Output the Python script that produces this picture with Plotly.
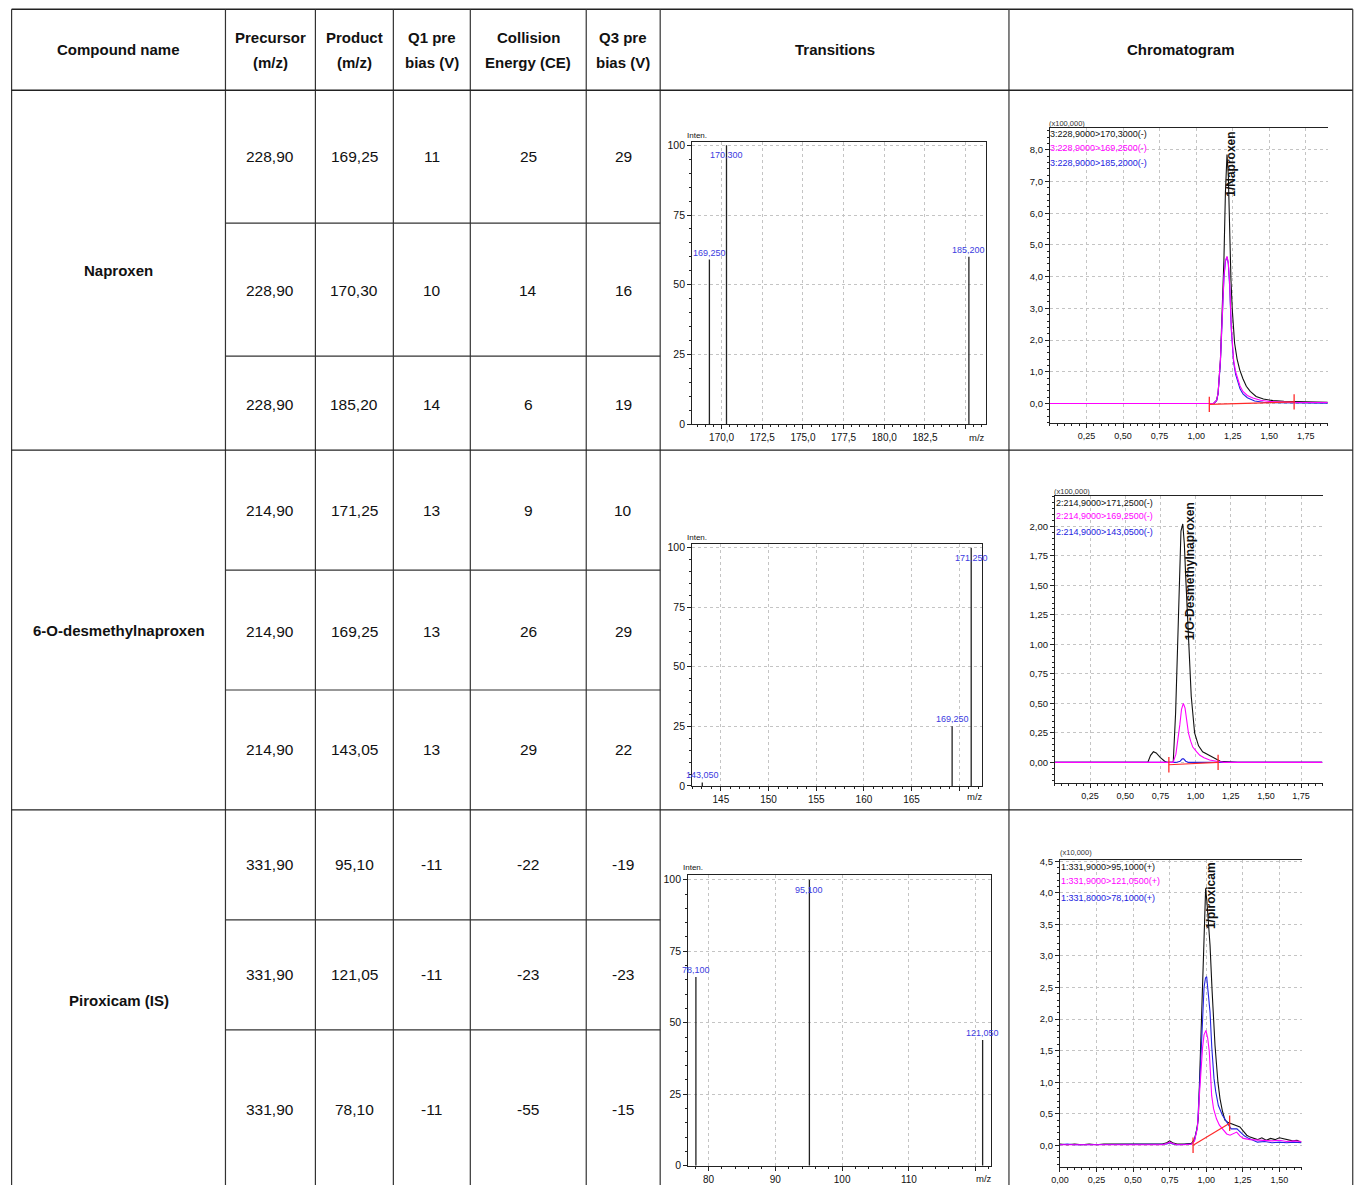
import plotly.graph_objects as go

# ---------------- table data ----------------
headers = ["Compound name", "Precursor<br>(m/z)", "Product<br>(m/z)", "Q1 pre<br>bias (V)",
           "Collision<br>Energy (CE)", "Q3 pre<br>bias (V)", "Transitions", "Chromatogram"]
compounds = ["Naproxen", "6-O-desmethylnaproxen", "Piroxicam (IS)"]
precursor_mz = [228.90, 228.90, 228.90, 214.90, 214.90, 214.90, 331.90, 331.90, 331.90]
product_mz = [169.25, 170.30, 185.20, 171.25, 169.25, 143.05, 95.10, 121.05, 78.10]
q1_bias = [11, 10, 14, 13, 13, 13, -11, -11, -11]
collision_energy = [25, 14, 6, 9, 26, 29, -22, -23, -55]
q3_bias = [29, 16, 19, 10, 29, 22, -19, -23, -15]

# ---------------- transition spectra (relative intensity) ----------------
spec1_mz = [169.25, 170.30, 185.20]
spec1_int = [59, 100, 60]
spec1_ticks = [170.0, 172.5, 175.0, 177.5, 180.0, 182.5, 185.0]
spec2_mz = [143.05, 169.25, 171.25]
spec2_int = [1.5, 25, 100]
spec2_ticks = [145.0, 150.0, 155.0, 160.0, 165.0, 170.0]
spec3_mz = [78.10, 95.10, 121.05]
spec3_int = [66, 100, 44]
spec3_ticks = [80, 90, 100, 110, 120]

# ---------------- chromatograms ----------------
# Naproxen (x100,000)
c1_black_t = [0.00, 0.50, 1.00, 1.12, 1.14, 1.15, 1.166, 1.18, 1.19, 1.20, 1.211, 1.22, 1.229, 1.238, 1.247,
              1.263, 1.28, 1.298, 1.32, 1.343, 1.37, 1.41, 1.46, 1.525, 1.60, 1.70, 1.80, 1.90]
c1_black_v = [0.00, 0.00, 0.00, 0.00, 0.10, 0.33, 1.38, 2.96, 4.54, 6.64, 7.85, 7.20, 5.06, 3.90, 2.96,
              1.90, 1.40, 1.06, 0.78, 0.54, 0.38, 0.22, 0.14, 0.09, 0.07, 0.06, 0.05, 0.04]
c1_blue_t = [0.00, 0.50, 1.00, 1.12, 1.14, 1.15, 1.166, 1.18, 1.19, 1.20, 1.211, 1.22, 1.229, 1.24, 1.256,
             1.27, 1.286, 1.30, 1.32, 1.35, 1.40, 1.46, 1.55, 1.65, 1.75, 1.90]
c1_blue_v = [0.00, 0.00, 0.00, 0.00, 0.09, 0.30, 1.30, 2.90, 3.95, 4.48, 4.62, 4.40, 3.70, 2.35, 1.30,
             0.92, 0.66, 0.46, 0.30, 0.18, 0.08, 0.04, 0.02, 0.02, 0.01, 0.01]
c1_mag_t = [0.00, 0.50, 1.00, 1.12, 1.14, 1.15, 1.166, 1.18, 1.19, 1.20, 1.211, 1.22, 1.229, 1.24, 1.256,
            1.27, 1.286, 1.30, 1.32, 1.35, 1.388, 1.44, 1.502, 1.60, 1.70, 1.80, 1.90]
c1_mag_v = [0.00, 0.00, 0.00, 0.00, 0.10, 0.33, 1.38, 2.96, 4.00, 4.50, 4.64, 4.45, 3.80, 2.45, 1.38,
            1.00, 0.75, 0.55, 0.38, 0.25, 0.17, 0.10, 0.06, 0.04, 0.03, 0.03, 0.03]
c1_red_t = [1.09, 1.67]
c1_red_v = [-0.03, 0.05]

# 6-O-desmethylnaproxen (x100,000)
c2_black_t = [0.00, 0.30, 0.60, 0.66, 0.68, 0.70, 0.72, 0.75, 0.78, 0.80, 0.841, 0.858, 0.872, 0.884, 0.896,
              0.909, 0.92, 0.931, 0.95, 0.969, 0.993, 1.021, 1.05, 1.08, 1.15, 1.175, 1.30, 1.50, 1.70, 1.90]
c2_black_v = [0.00, 0.00, 0.00, 0.00, 0.06, 0.09, 0.08, 0.04, 0.01, 0.00, 0.00, 0.42, 0.98, 1.54, 1.96,
              2.02, 1.85, 1.54, 0.98, 0.56, 0.25, 0.14, 0.09, 0.07, 0.03, 0.01, 0.00, 0.00, 0.00, 0.00]
c2_blue_t = [0.00, 0.86, 0.89, 0.905, 0.915, 0.93, 0.95, 1.20, 1.50, 1.90]
c2_blue_v = [0.00, 0.00, 0.01, 0.03, 0.03, 0.01, 0.00, 0.00, 0.00, 0.00]
c2_mag_t = [0.00, 0.60, 0.66, 0.80, 0.84, 0.86, 0.876, 0.888, 0.90, 0.913, 0.925, 0.937, 0.949, 0.965,
            0.98, 1.008, 1.03, 1.06, 1.10, 1.15, 1.20, 1.90]
c2_mag_v = [0.00, 0.00, 0.00, 0.00, 0.00, 0.07, 0.19, 0.32, 0.45, 0.50, 0.46, 0.35, 0.25, 0.18,
            0.13, 0.09, 0.06, 0.04, 0.02, 0.01, 0.00, 0.00]
c2_red_t = [0.81, 1.16]
c2_red_v = [-0.02, 0.00]

# Piroxicam (x10,000)
c3_black_t = [0.00, 0.05, 0.10, 0.15, 0.20, 0.25, 0.30, 0.35, 0.40, 0.45, 0.50, 0.55, 0.60, 0.65, 0.70,
              0.73, 0.75, 0.77, 0.80, 0.85, 0.90, 0.92, 0.935, 0.946, 0.962, 0.976, 0.987, 0.996,
              1.005, 1.015, 1.026, 1.04, 1.06, 1.08, 1.094, 1.11, 1.128, 1.15, 1.174, 1.20, 1.23, 1.255,
              1.277, 1.30, 1.32, 1.35, 1.38, 1.41, 1.44, 1.47, 1.50, 1.53, 1.56, 1.59, 1.62, 1.65]
c3_black_v = [0.02, 0.01, 0.02, 0.01, 0.02, 0.01, 0.02, 0.02, 0.01, 0.02, 0.01, 0.02, 0.01, 0.02, 0.02,
              0.04, 0.07, 0.04, 0.02, 0.02, 0.03, 0.10, 0.25, 0.42, 1.58, 2.64, 3.70, 4.07,
              3.85, 3.50, 3.17, 2.45, 1.58, 1.00, 0.74, 0.55, 0.40, 0.36, 0.34, 0.32, 0.29, 0.22,
              0.16, 0.13, 0.11, 0.09, 0.12, 0.08, 0.11, 0.09, 0.12, 0.10, 0.09, 0.07, 0.08, 0.05]
c3_blue_t = [0.00, 0.05, 0.10, 0.15, 0.20, 0.25, 0.30, 0.35, 0.40, 0.45, 0.50, 0.55, 0.60, 0.65, 0.70,
             0.73, 0.75, 0.77, 0.80, 0.85, 0.90, 0.92, 0.94, 0.955, 0.965, 0.975, 0.985, 0.995, 1.003,
             1.012, 1.026, 1.038, 1.053, 1.065, 1.083, 1.11, 1.14, 1.17, 1.21, 1.24, 1.26, 1.29, 1.35,
             1.40, 1.45, 1.50, 1.55, 1.60, 1.65]
c3_blue_v = [0.01, 0.02, 0.01, 0.01, 0.02, 0.01, 0.01, 0.02, 0.01, 0.01, 0.02, 0.01, 0.01, 0.02, 0.01,
             0.02, 0.04, 0.02, 0.01, 0.01, 0.02, 0.08, 0.30, 0.95, 1.55, 2.10, 2.50, 2.65, 2.67,
             2.45, 2.11, 1.55, 1.06, 0.85, 0.63, 0.48, 0.37, 0.26, 0.26, 0.20, 0.15, 0.11, 0.05,
             0.06, 0.04, 0.05, 0.04, 0.05, 0.04]
c3_mag_t = [0.00, 0.05, 0.10, 0.15, 0.20, 0.25, 0.30, 0.35, 0.40, 0.45, 0.50, 0.55, 0.60, 0.65, 0.70,
            0.73, 0.75, 0.77, 0.80, 0.85, 0.90, 0.92, 0.94, 0.955, 0.965, 0.975, 0.985, 0.998, 1.01,
            1.021, 1.03, 1.037, 1.05, 1.07, 1.09, 1.117, 1.14, 1.163, 1.185, 1.208, 1.23, 1.254, 1.30,
            1.37, 1.45, 1.50, 1.55, 1.60, 1.65]
c3_mag_v = [0.01, 0.01, 0.02, 0.01, 0.01, 0.02, 0.01, 0.01, 0.01, 0.02, 0.01, 0.01, 0.02, 0.01, 0.01,
            0.03, 0.05, 0.03, 0.01, 0.01, 0.02, 0.07, 0.28, 0.85, 1.25, 1.55, 1.75, 1.82, 1.70,
            1.48, 1.10, 0.79, 0.58, 0.42, 0.32, 0.24, 0.18, 0.16, 0.19, 0.21, 0.15, 0.11, 0.09,
            0.08, 0.07, 0.08, 0.06, 0.07, 0.06]
c3_red_t = [0.91, 1.16]
c3_red_v = [0.00, 0.35]

c1_names = ["3:228,9000>170,3000(-)", "3:228,9000>169,2500(-)", "3:228,9000>185,2000(-)"]
c2_names = ["2:214,9000>171,2500(-)", "2:214,9000>169,2500(-)", "2:214,9000>143,0500(-)"]
c3_names = ["1:331,9000>95,1000(+)", "1:331,9000>121,0500(+)", "1:331,8000>78,1000(+)"]
scale_labels = ["(x100,000)", "(x100,000)", "(x10,000)"]
peak_names = ["1/Naproxen", "1/O-Desmethylnaproxen", "1/piroxicam"]
peak_rt = [1.241, 0.960, 1.037]

# ---------------- geometry / style ----------------
W, H = 1356, 1185
# small correction for the page placement observed in the rendered screenshot
OX, SX, OY, SY = 8.4, 0.994, 3.7, 0.992
FONT = "Liberation Sans, Arial, sans-serif"
BLACK, MAGENTA, BLUE, RED = "#111111", "#ff00ff", "#2222e0", "#ff2a2a"
LABEL_BLUE = "#3b3be0"
TABLE_SIZE = 15


def px(x):
    return ((x - OX) / SX) / W


def py(y):
    return 1 - ((y - OY) / SY) / H


col_edges = [11, 225, 315, 393, 470, 586, 660, 1009, 1353]
row_edges = [9, 90, 223, 356, 450, 570, 690, 810, 920, 1030, 1200]
section_edges = [90, 450, 810, 1200]

fig = go.Figure()
shapes = []
anns = []

# table lines
shapes.append(dict(type="line", xref="paper", yref="paper", x0=px(col_edges[0]), x1=px(col_edges[-1]),
                   y0=py(row_edges[0]), y1=py(row_edges[0]), line=dict(color="#222", width=1.6)))
for xe in col_edges:
    shapes.append(dict(type="line", xref="paper", yref="paper", x0=px(xe), x1=px(xe),
                       y0=py(row_edges[0]), y1=py(row_edges[-1]), line=dict(color="#333", width=1.2)))
for ye in section_edges[:-1]:
    shapes.append(dict(type="line", xref="paper", yref="paper", x0=px(col_edges[0]), x1=px(col_edges[-1]),
                       y0=py(ye), y1=py(ye), line=dict(color="#222", width=1.3)))
for ye in row_edges[1:-1]:
    if ye in section_edges:
        continue
    shapes.append(dict(type="line", xref="paper", yref="paper", x0=px(col_edges[1]), x1=px(col_edges[6]),
                       y0=py(ye), y1=py(ye), line=dict(color="#333", width=1.2)))

# header text (each line placed separately for the wider line spacing)
hdr_mid = (row_edges[0] + row_edges[1]) / 2
for i, h in enumerate(headers):
    parts = h.split("<br>")
    for j, part in enumerate(parts):
        off = (j - (len(parts) - 1) / 2) * 25
        anns.append(dict(x=px((col_edges[i] + col_edges[i + 1]) / 2), y=py(hdr_mid + off),
                         xref="paper", yref="paper", text=f"<b>{part}</b>", showarrow=False,
                         font=dict(family=FONT, size=TABLE_SIZE, color="#111"), xanchor="center",
                         yanchor="middle"))
# compound names
comp_centers = [270, 630, 1001]
for k, c in enumerate(compounds):
    anns.append(dict(x=px((col_edges[0] + col_edges[1]) / 2), y=py(comp_centers[k]),
                     xref="paper", yref="paper", text=f"<b>{c}</b>", showarrow=False,
                     font=dict(family=FONT, size=TABLE_SIZE, color="#111"), xanchor="center", yanchor="middle"))


def fmt2(v):
    return f"{v:.2f}".replace(".", ",")


row_centers = [156, 290, 404, 510, 631, 750, 865, 975, 1110]
columns = [[fmt2(v) for v in precursor_mz], [fmt2(v) for v in product_mz],
           [str(v) for v in q1_bias], [str(v) for v in collision_energy], [str(v) for v in q3_bias]]
for ci, col in enumerate(columns):
    for ri, txt in enumerate(col):
        anns.append(dict(x=px((col_edges[ci + 1] + col_edges[ci + 2]) / 2), y=py(row_centers[ri]),
                         xref="paper", yref="paper", text=txt, showarrow=False,
                         font=dict(family=FONT, size=TABLE_SIZE + 0.5, color="#111"), xanchor="center",
                         yanchor="middle"))

layout_axes = {}
grid = dict(showgrid=True, gridcolor="#c4c4c4", griddash="3px,3px", gridwidth=1, zeroline=False)


def dom(x0, x1, y0, y1):
    return [px(x0), px(x1)], [py(y1), py(y0)]


# ---------- spectra ----------
spectra = [
    (spec1_mz, spec1_int, spec1_ticks, (692, 986, 142, 424), [168.19, 186.25], [0, 101.1], 0.5, (977, 437)),
    (spec2_mz, spec2_int, spec2_ticks, (692, 982, 544, 786), [141.99, 172.38], [0, 101.5], 1.0, (975, 797)),
    (spec3_mz, spec3_int, spec3_ticks, (688, 991, 875, 1166), [76.94, 122.3], [0, 101.7], 2.0, (984, 1179)),
]
for k, (mz, inten, ticks, box, xr, yr, xminor, mzpos) in enumerate(spectra):
    n = 2 * k + 1
    xs, ys = [], []
    for m, v in zip(mz, inten):
        xs += [m, m, None]
        ys += [0, v, None]
    xa = "x" if n == 1 else f"x{n}"
    ya = "y" if n == 1 else f"y{n}"
    fig.add_trace(go.Scatter(x=xs, y=ys, mode="lines", line=dict(color="#222", width=1.3),
                             xaxis=xa, yaxis=ya, showlegend=False, hoverinfo="skip"))
    xd, yd = dom(*box)
    if all(float(t).is_integer() for t in ticks):
        labels = [str(int(t)) for t in ticks[:-1]] + [""]
    else:
        labels = [f"{t:.1f}".replace(".", ",") for t in ticks[:-1]] + [""]
    layout_axes["xaxis" if n == 1 else f"xaxis{n}"] = dict(
        domain=xd, range=xr, anchor=ya, tickmode="array", tickvals=ticks, ticktext=labels,
        showline=True, linecolor="#222", linewidth=1, mirror=True, ticks="outside", ticklen=4,
        tickcolor="#222", tickfont=dict(family=FONT, size=10, color="#111"),
        minor=dict(tickmode="linear", tick0=ticks[0], dtick=xminor, ticks="outside", ticklen=2,
                   tickcolor="#222", showgrid=False), **grid)
    layout_axes["yaxis" if n == 1 else f"yaxis{n}"] = dict(
        domain=yd, range=yr, anchor=xa, tickmode="array", tickvals=[0, 25, 50, 75, 100],
        showline=True, linecolor="#222", linewidth=1, mirror=True, ticks="outside", ticklen=4,
        tickcolor="#222", tickfont=dict(family=FONT, size=10.5, color="#111"),
        minor=dict(tickmode="linear", tick0=0, dtick=5, ticks="outside", ticklen=2, tickcolor="#222",
                   showgrid=False), **grid)
    for m, v in zip(mz, inten):
        anns.append(dict(x=m, y=v, xref=xa, yref=ya, text=f"{m:.3f}".replace(".", ","), showarrow=False,
                         font=dict(family=FONT, size=9, color=LABEL_BLUE), xanchor="center",
                         yanchor="top" if v >= 99 else "bottom", yshift=-3 if v >= 99 else 0))
    anns.append(dict(x=px(box[0] + 5), y=py(box[2] - 7), xref="paper", yref="paper", text="Inten.",
                     showarrow=False, font=dict(family=FONT, size=8, color="#111"),
                     xanchor="center", yanchor="middle"))
    anns.append(dict(x=px(mzpos[0]), y=py(mzpos[1]), xref="paper", yref="paper", text="m/z",
                     showarrow=False, font=dict(family=FONT, size=9.5, color="#111"),
                     xanchor="center", yanchor="middle"))

# ---------- chromatograms ----------
chroms = [
    ([(c1_black_t, c1_black_v, BLACK), (c1_blue_t, c1_blue_v, BLUE), (c1_mag_t, c1_mag_v, MAGENTA)],
     (c1_red_t, c1_red_v), c1_names, (1050, 1328, 128, 423), [0, 1.9], [-0.62, 8.68],
     [0.25, 0.5, 0.75, 1.0, 1.25, 1.5, 1.75], [0, 1, 2, 3, 4, 5, 6, 7, 8], ".1f", 0.2, 8.63,
     (1048, [134, 148, 163]), (1047, 123)),
    ([(c2_black_t, c2_black_v, BLACK), (c2_blue_t, c2_blue_v, BLUE), (c2_mag_t, c2_mag_v, MAGENTA)],
     (c2_red_t, c2_red_v), c2_names, (1055, 1323, 496, 783), [0, 1.904], [-0.174, 2.256],
     [0.25, 0.5, 0.75, 1.0, 1.25, 1.5, 1.75], [0, 0.25, 0.5, 0.75, 1.0, 1.25, 1.5, 1.75, 2.0], ".2f", 0.05,
     2.22, (1054, [503, 516, 532]), (1052, 491)),
    ([(c3_black_t, c3_black_v, BLACK), (c3_blue_t, c3_blue_v, BLUE), (c3_mag_t, c3_mag_v, MAGENTA)],
     (c3_red_t, c3_red_v), c3_names, (1060, 1302, 860, 1167), [0, 1.653], [-0.34, 4.52],
     [0, 0.25, 0.5, 0.75, 1.0, 1.25, 1.5], [0, 0.5, 1.0, 1.5, 2.0, 2.5, 3.0, 3.5, 4.0, 4.5], ".1f", 0.1,
     4.52, (1059, [867, 881, 898]), (1058, 853)),
]
name_colors = [BLACK, MAGENTA, BLUE]
for k, (traces, red, names, box, xr, yr, xt, yt, yfmt, yminor, ptop, legpos, scalepos) in enumerate(chroms):
    n = 2 * k + 2
    xa, ya = f"x{n}", f"y{n}"
    for t, v, col in traces:
        fig.add_trace(go.Scatter(x=t, y=v, mode="lines", line=dict(color=col, width=1.1),
                                 xaxis=xa, yaxis=ya, showlegend=False, hoverinfo="skip"))
    fig.add_trace(go.Scatter(x=red[0], y=red[1], mode="lines+markers", line=dict(color=RED, width=1.2),
                             marker=dict(symbol="line-ns", size=11, color=RED, line=dict(color=RED, width=1.3)),
                             xaxis=xa, yaxis=ya, showlegend=False, hoverinfo="skip", cliponaxis=False))
    xd, yd = dom(*box)
    layout_axes[f"xaxis{n}"] = dict(
        domain=xd, range=xr, anchor=ya, tickmode="array", tickvals=xt, tickformat=".2f",
        showline=True, linecolor="#222", linewidth=1, mirror=True, ticks="outside", ticklen=4,
        tickcolor="#222", tickfont=dict(family=FONT, size=9, color="#111"),
        minor=dict(tickmode="linear", tick0=0, dtick=0.05, ticks="outside", ticklen=2, tickcolor="#222",
                   showgrid=False), **grid)
    layout_axes[f"yaxis{n}"] = dict(
        domain=yd, range=yr, anchor=xa, tickmode="array", tickvals=yt, tickformat=yfmt,
        showline=True, linecolor="#222", linewidth=1, mirror=False, ticks="outside", ticklen=4,
        tickcolor="#222", tickfont=dict(family=FONT, size=9.5, color="#111"),
        minor=dict(tickmode="linear", tick0=0, dtick=yminor, ticks="outside", ticklen=2, tickcolor="#222",
                   showgrid=False), **grid)
    for j, nm in enumerate(names):
        anns.append(dict(x=px(legpos[0]), y=py(legpos[1][j]), xref="paper", yref="paper", text=nm,
                         showarrow=False, font=dict(family=FONT, size=9, color=name_colors[j]),
                         xanchor="left", yanchor="middle"))
    anns.append(dict(x=px(scalepos[0]), y=py(scalepos[1]), xref="paper", yref="paper", text=scale_labels[k],
                     showarrow=False, font=dict(family=FONT, size=7.5, color="#333"),
                     xanchor="left", yanchor="middle"))
    anns.append(dict(x=peak_rt[k], y=ptop, xref=xa, yref=ya, text=f"<b>{peak_names[k]}</b>", showarrow=False,
                     textangle=-90, font=dict(family=FONT, size=12, color="#111"),
                     xanchor="center", yanchor="top"))

fig.update_layout(
    width=W, height=H, margin=dict(l=0, r=0, t=0, b=0), autosize=False,
    paper_bgcolor="white", plot_bgcolor="white", separators=",.", showlegend=False,
    shapes=shapes, annotations=anns, **layout_axes,
)
fig.write_html("out.html", config={"displayModeBar": False, "responsive": False},
               post_script="document.body.style.margin='0';document.body.style.padding='0';"
                           "document.body.style.overflow='hidden';")
